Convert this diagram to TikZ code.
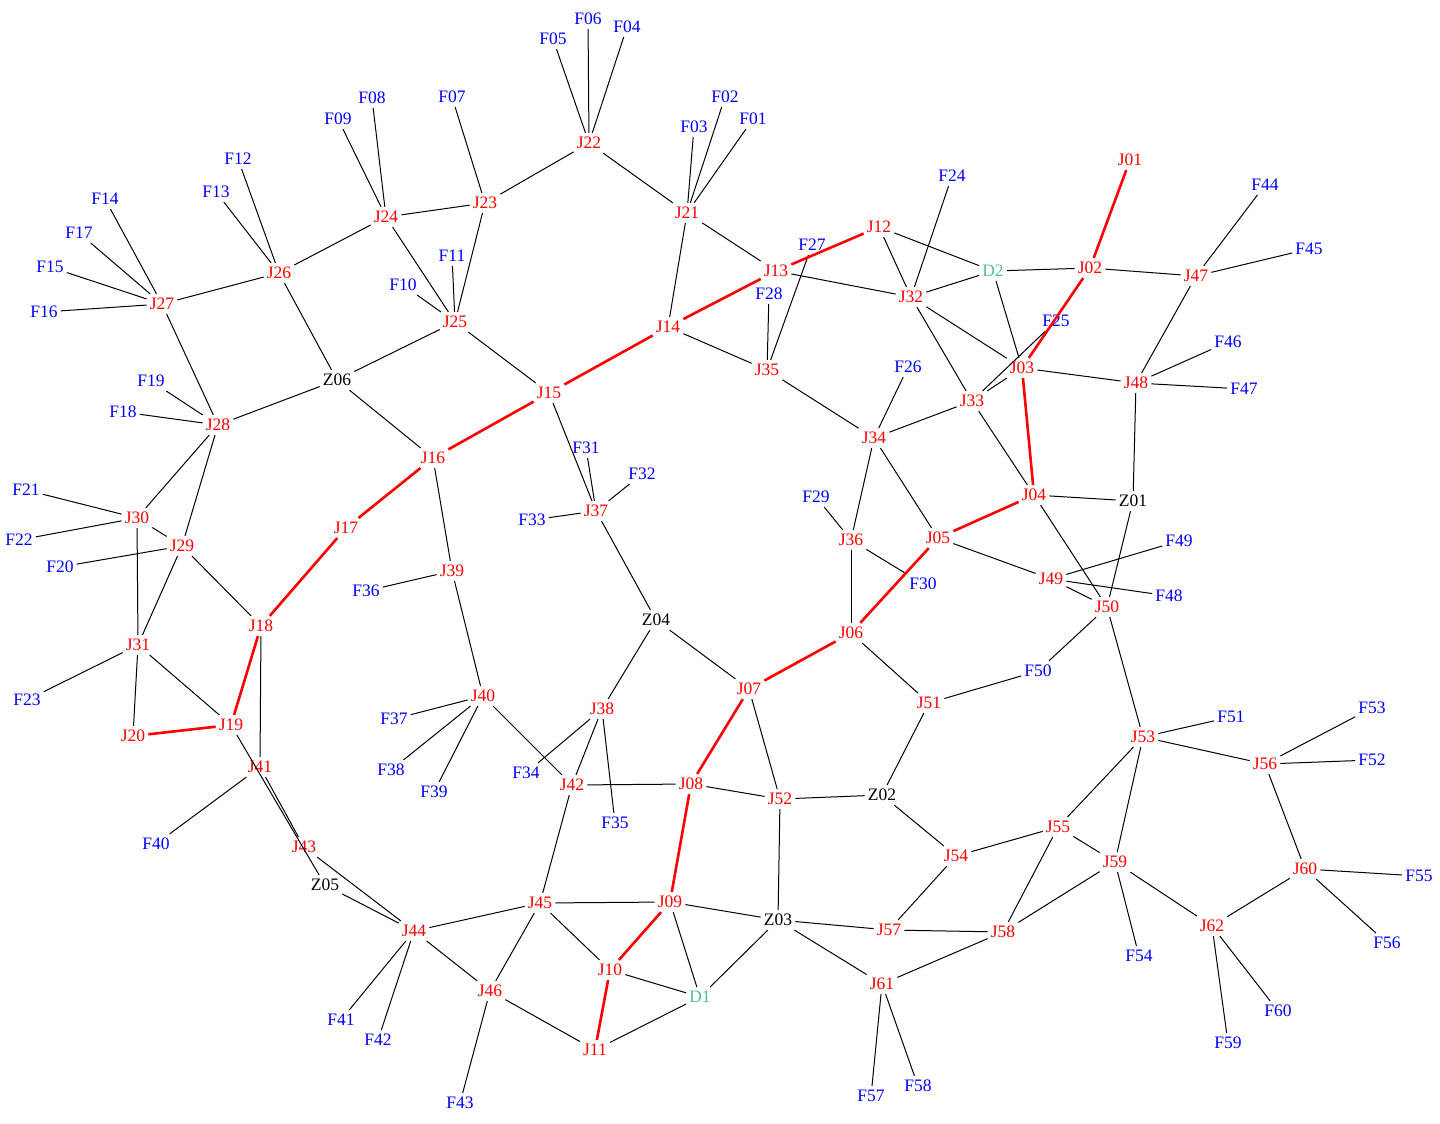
\documentclass[tikz,border=0pt]{standalone}
\usepackage{fontspec}
\setmainfont{Liberation Serif}
\definecolor{dgreen}{RGB}{82,190,150}
\tikzset{
  base/.style={inner xsep=3pt, inner ysep=4pt, font=\fontsize{17.5}{20}\selectfont},
  jn/.style={base, text=red},
  fn/.style={base, text=blue},
  zn/.style={base, text=black},
  dn/.style={base, text=dgreen},
  e/.style={draw=black, line width=1pt},
  r/.style={draw=red, line width=2.6pt}
}
\begin{document}
\begin{tikzpicture}[x=1pt,y=-1pt]
\useasboundingbox (0,0) rectangle (1440,1124);
% J nodes
\node[jn] (J01) at (1130,160) {J01};
\node[jn] (J02) at (1090,268) {J02};
\node[jn] (J03) at (1022,368) {J03};
\node[jn] (J04) at (1034,495) {J04};
\node[jn] (J05) at (938,538) {J05};
\node[jn] (J06) at (851,633) {J06};
\node[jn] (J07) at (749,689) {J07};
\node[jn] (J08) at (691,784) {J08};
\node[jn] (J09) at (670,902) {J09};
\node[jn] (J10) at (610,970) {J10};
\node[jn] (J11) at (595,1050) {J11};
\node[jn] (J12) at (879,227) {J12};
\node[jn] (J13) at (776,271) {J13};
\node[jn] (J14) at (668,327) {J14};
\node[jn] (J15) at (549,393) {J15};
\node[jn] (J16) at (433,458) {J16};
\node[jn] (J17) at (346,528) {J17};
\node[jn] (J18) at (261,626) {J18};
\node[jn] (J19) at (231,725) {J19};
\node[jn] (J20) at (133,736) {J20};
\node[jn] (J21) at (687,213) {J21};
\node[jn] (J22) at (589,143) {J22};
\node[jn] (J23) at (485,203) {J23};
\node[jn] (J24) at (386,217) {J24};
\node[jn] (J25) at (455,322) {J25};
\node[jn] (J26) at (279,273) {J26};
\node[jn] (J27) at (162,304) {J27};
\node[jn] (J28) at (218,425) {J28};
\node[jn] (J29) at (182,546) {J29};
\node[jn] (J30) at (137,518) {J30};
\node[jn] (J31) at (138,645) {J31};
\node[jn] (J32) at (911,297) {J32};
\node[jn] (J33) at (972,401) {J33};
\node[jn] (J34) at (874,438) {J34};
\node[jn] (J35) at (767,370) {J35};
\node[jn] (J36) at (851,540) {J36};
\node[jn] (J37) at (596,511) {J37};
\node[jn] (J38) at (602,709) {J38};
\node[jn] (J39) at (452,571) {J39};
\node[jn] (J40) at (483,696) {J40};
\node[jn] (J41) at (260,767) {J41};
\node[jn] (J42) at (572,785) {J42};
\node[jn] (J43) at (304,847) {J43};
\node[jn] (J44) at (414,931) {J44};
\node[jn] (J45) at (540,903) {J45};
\node[jn] (J46) at (490,991) {J46};
\node[jn] (J47) at (1196,276) {J47};
\node[jn] (J48) at (1136,383) {J48};
\node[jn] (J49) at (1051,579) {J49};
\node[jn] (J50) at (1107,607) {J50};
\node[jn] (J51) at (929,703) {J51};
\node[jn] (J52) at (780,799) {J52};
\node[jn] (J53) at (1143,737) {J53};
\node[jn] (J54) at (956,856) {J54};
\node[jn] (J55) at (1058,827) {J55};
\node[jn] (J56) at (1265,764) {J56};
\node[jn] (J57) at (889,930) {J57};
\node[jn] (J58) at (1003,932) {J58};
\node[jn] (J59) at (1115,862) {J59};
\node[jn] (J60) at (1305,869) {J60};
\node[jn] (J61) at (882,984) {J61};
\node[jn] (J62) at (1212,926) {J62};
% Z and D nodes
\node[zn] (Z01) at (1133,501) {Z01};
\node[zn] (Z02) at (882,795) {Z02};
\node[zn] (Z03) at (778,920) {Z03};
\node[zn] (Z04) at (656,620) {Z04};
\node[zn] (Z05) at (325,885) {Z05};
\node[zn] (Z06) at (337,380) {Z06};
\node[dn] (D1) at (700,997) {D1};
\node[dn] (D2) at (993,271) {D2};
% F nodes
\node[fn] (F01) at (753,119) {F01};
\node[fn] (F02) at (725,97) {F02};
\node[fn] (F03) at (694,127) {F03};
\node[fn] (F04) at (627,27) {F04};
\node[fn] (F05) at (553,39) {F05};
\node[fn] (F06) at (588,19) {F06};
\node[fn] (F07) at (452,97) {F07};
\node[fn] (F08) at (372,98) {F08};
\node[fn] (F09) at (338,119) {F09};
\node[fn] (F10) at (403,285) {F10};
\node[fn] (F11) at (452,256) {F11};
\node[fn] (F12) at (238,159) {F12};
\node[fn] (F13) at (216,192) {F13};
\node[fn] (F14) at (105,199) {F14};
\node[fn] (F15) at (50,267) {F15};
\node[fn] (F16) at (44,312) {F16};
\node[fn] (F17) at (79,233) {F17};
\node[fn] (F18) at (123,412) {F18};
\node[fn] (F19) at (151,381) {F19};
\node[fn] (F20) at (60,567) {F20};
\node[fn] (F21) at (26,490) {F21};
\node[fn] (F22) at (19,540) {F22};
\node[fn] (F23) at (27,700) {F23};
\node[fn] (F24) at (952,176) {F24};
\node[fn] (F25) at (1056,321) {F25};
\node[fn] (F26) at (908,367) {F26};
\node[fn] (F27) at (812,245) {F27};
\node[fn] (F28) at (769,294) {F28};
\node[fn] (F29) at (816,497) {F29};
\node[fn] (F30) at (923,584) {F30};
\node[fn] (F31) at (586,448) {F31};
\node[fn] (F32) at (642,474) {F32};
\node[fn] (F33) at (532,520) {F33};
\node[fn] (F34) at (526,773) {F34};
\node[fn] (F35) at (615,823) {F35};
\node[fn] (F36) at (366,591) {F36};
\node[fn] (F37) at (394,719) {F37};
\node[fn] (F38) at (391,770) {F38};
\node[fn] (F39) at (434,792) {F39};
\node[fn] (F40) at (156,844) {F40};
\node[fn] (F41) at (341,1020) {F41};
\node[fn] (F42) at (378,1040) {F42};
\node[fn] (F43) at (460,1103) {F43};
\node[fn] (F44) at (1265,185) {F44};
\node[fn] (F45) at (1309,249) {F45};
\node[fn] (F46) at (1228,342) {F46};
\node[fn] (F47) at (1244,389) {F47};
\node[fn] (F48) at (1169,596) {F48};
\node[fn] (F49) at (1179,541) {F49};
\node[fn] (F50) at (1038,671) {F50};
\node[fn] (F51) at (1231,717) {F51};
\node[fn] (F52) at (1372,760) {F52};
\node[fn] (F53) at (1372,708) {F53};
\node[fn] (F54) at (1139,956) {F54};
\node[fn] (F55) at (1419,876) {F55};
\node[fn] (F56) at (1387,943) {F56};
\node[fn] (F57) at (871,1096) {F57};
\node[fn] (F58) at (918,1086) {F58};
\node[fn] (F59) at (1228,1043) {F59};
\node[fn] (F60) at (1278,1011) {F60};
% black edges
\foreach \a/\b in {J27/F14,J27/F17,J27/F15,J27/F16,J27/J26,J27/J28,
  J26/F13,J26/F12,J26/J24,J26/Z06,
  J24/F09,J24/F08,J24/J23,J24/J25,
  J23/F07,J23/J22,J23/J25,
  J25/F11,J25/F10,J25/Z06,J25/J15,
  J22/F05,J22/F06,J22/F04,J22/J21,
  J21/F03,J21/F02,J21/F01,J21/J13,J21/J14,
  J13/J32,J12/J32,J12/D2,F27/J35,F28/J35,
  J32/F24,J32/D2,J32/J03,J32/J33,
  D2/J02,D2/J03,J02/J47,
  J47/F44,J47/F45,J47/J48,
  J48/F46,J48/F47,J48/J03,J48/Z01,
  J33/F25,J33/J03,J33/J34,J33/J04,
  J04/Z01,J04/J50,Z01/J50,
  J05/J49,J05/J34,
  J49/F49,J49/F48,J49/J50,
  J50/F50,J50/J53,F50/J51,
  J14/J35,J35/J34,
  J34/F26,J34/J36,
  J36/F29,J36/F30,J36/J06,J06/J51,
  J15/J37,J37/F31,J37/F32,J37/F33,J37/Z04,
  J16/Z06,J16/J39,Z06/J28,
  J28/F19,J28/F18,J28/J30,J28/J29,
  J30/F21,J30/F22,J30/J29,J30/J31,
  J29/F20,J29/J31,J29/J18,
  J31/F23,J31/J20,J31/J19,
  J18/J41,J19/Z05,J41/J43,J41/F40,
  J43/J44,Z05/J44,
  J39/F36,J39/J40,
  J40/F37,J40/F38,J40/F39,J40/J42,
  Z04/J38,Z04/J07,
  J38/F34,J38/J42,J38/F35,
  J42/J08,J42/J45,
  J07/J52,J08/J52,J52/Z02,J52/Z03,
  Z02/J51,Z02/J54,
  J45/J09,J45/J44,J45/J46,J45/J10,
  J09/D1,J09/Z03,J10/D1,
  J46/J11,J46/J44,J46/F43,
  J44/F41,J44/F42,
  J11/D1,D1/Z03,
  Z03/J57,Z03/J61,
  J57/J54,J57/J58,
  J61/J58,J61/F57,J61/F58,
  J54/J55,
  J55/J53,J55/J58,J55/J59,
  J53/J59,J53/F51,J53/J56,
  J59/J58,J59/F54,J59/J62,
  J56/F53,J56/F52,J56/J60,
  J60/F55,J60/F56,J60/J62,
  J62/F59,J62/F60}
  \draw[e] (\a) -- (\b);
% red edges
\foreach \a/\b in {J01/J02,J02/J03,J03/J04,J04/J05,J05/J06,J06/J07,J07/J08,
  J08/J09,J09/J10,J10/J11,J12/J13,J13/J14,J14/J15,J15/J16,J16/J17,J17/J18,
  J18/J19,J19/J20}
  \draw[r] (\a) -- (\b);
\end{tikzpicture}
\end{document}
